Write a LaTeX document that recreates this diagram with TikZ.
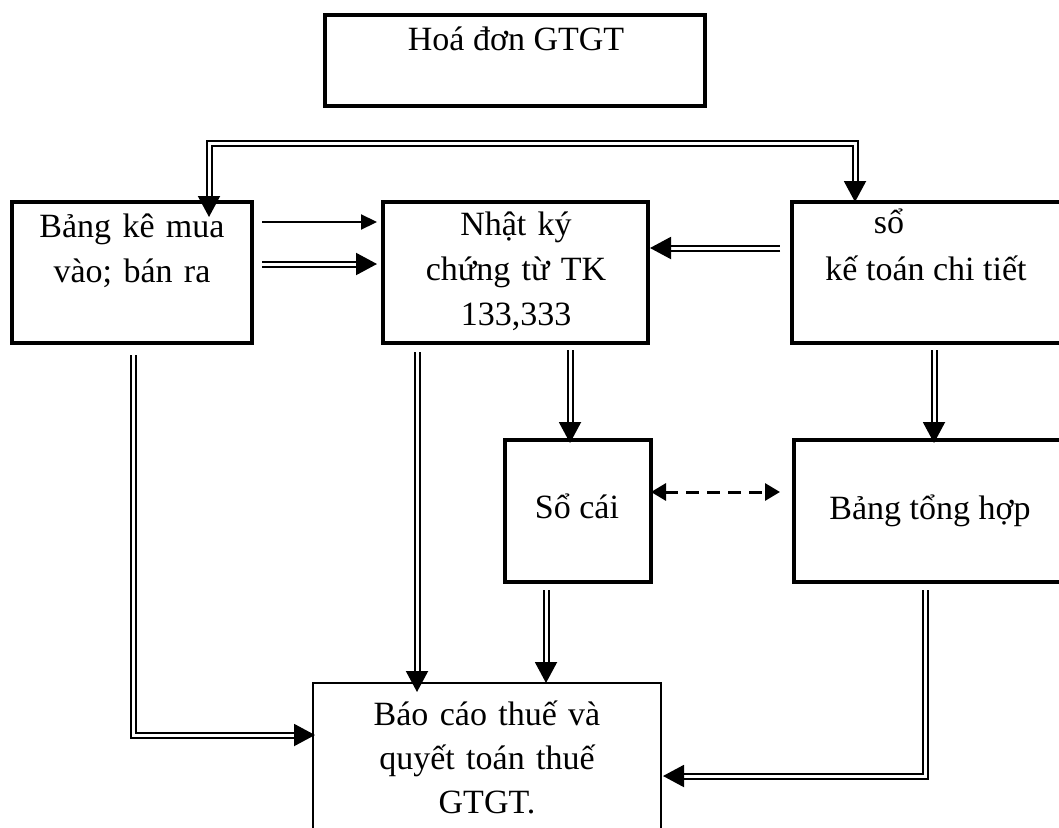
\documentclass[tikz,border=0pt]{standalone}
\usepackage{fontspec}
\setmainfont{Liberation Serif}
\usetikzlibrary{arrows.meta,calc}

\begin{document}
\begin{tikzpicture}[x=1pt,y=-1pt,
  box/.style={draw, line width=4pt, rectangle, anchor=north west,
    inner sep=0pt, outer sep=0pt},
  thinbox/.style={box, line width=2pt},
  lbl/.style={font=\fontsize{34}{45}\selectfont, inner sep=0pt,
    anchor=base, align=center},
  bigtip/.tip={Triangle[length=21pt,width=22pt]},
  smalltip/.tip={Triangle[length=16pt,width=15pt]},
  dashtip/.tip={Triangle[length=15pt,width=17pt]},
  dbl/.style={line width=2pt, double, double distance=3pt, -bigtip},
  dblboth/.style={line width=2pt, double, double distance=3pt, bigtip-bigtip},
  single/.style={line width=2.2pt, -smalltip},
  dashlink/.style={line width=3pt, dash pattern=on 13pt off 8pt,
    dashtip-dashtip}
]
\useasboundingbox (0,0) rectangle (1059,827);

% boxes
\node[box, line width=4.5pt, minimum width=380pt, minimum height=91pt] (hd) at (325,15) {};
\node[box, minimum width=240pt, minimum height=141pt] (bk) at (12,202) {};
\node[box, minimum width=265pt, minimum height=141pt] (nk) at (383,202) {};
\node[box, minimum width=280pt, minimum height=141pt] (sct) at (792,202) {};
\node[box, minimum width=146pt, minimum height=142pt] (sc) at (505,440) {};
\node[box, minimum width=280pt, minimum height=142pt] (bth) at (794,440) {};
\node[thinbox, minimum width=348pt, minimum height=170pt] (bc) at (313,683) {};

% texts
\node[lbl] (hdT) at (516,50) {Hoá đơn GTGT};
\node[lbl, text width=230pt] (bkT) at (132,237) {Bảng kê mua\\vào; bán ra};
\node[lbl, text width=255pt] (nkT) at (516,235) {Nhật ký\\chứng từ TK\\133,333};
\node[lbl] (sctA) at (889,233) {sổ};
\node[lbl] (sctB) at (926,280) {kế toán chi tiết};
\node[lbl] (scT) at (577,518) {Sổ cái};
\node[lbl] (bthT) at (930,519) {Bảng tổng hợp};
\node[lbl, text width=330pt, font=\fontsize{34}{44}\selectfont] (bcT) at (487,725)
  {Báo cáo thuế và\\quyết toán thuế\\GTGT.};

% connectors
\coordinate (topR) at (855,143);
\draw[dblboth] ($(bk.north west)+(197,15)$) |- (topR) -- ($(sct.north west)+(63,0)$);

\draw[single] ($(bk.north east)+(10,20)$) -- ($(nk.north west)+(-6,20)$);
\draw[dbl] ($(bk.north east)+(10,62)$) -- ($(nk.north west)+(-6,62)$);
\draw[dbl] ($(sct.north west)+(-12,46)$) -- ($(nk.north east)+(2,46)$);

\draw[dbl] ($(nk.south west)+(187,7)$) -- ($(sc.north west)+(65,3)$);
\draw[dbl] ($(sct.south west)+(142,7)$) -- ($(bth.north west)+(140,3)$);

\draw[dashlink] ($(sc.north east)+(0,52)$) -- ($(bth.north west)+(-14,52)$);

\draw[dbl] ($(nk.south west)+(34,9)$) -- ($(bc.north west)+(104,9)$);
\draw[dbl] ($(sc.south west)+(41,8)$) -- ($(bc.north west)+(233,0)$);
\draw[dbl] ($(bk.south west)+(121,12)$) |- ($(bc.north west)+(2,52)$);
\draw[dbl] ($(bth.south west)+(131,8)$) |- ($(bc.north east)+(2,93)$);
\end{tikzpicture}
\end{document}
